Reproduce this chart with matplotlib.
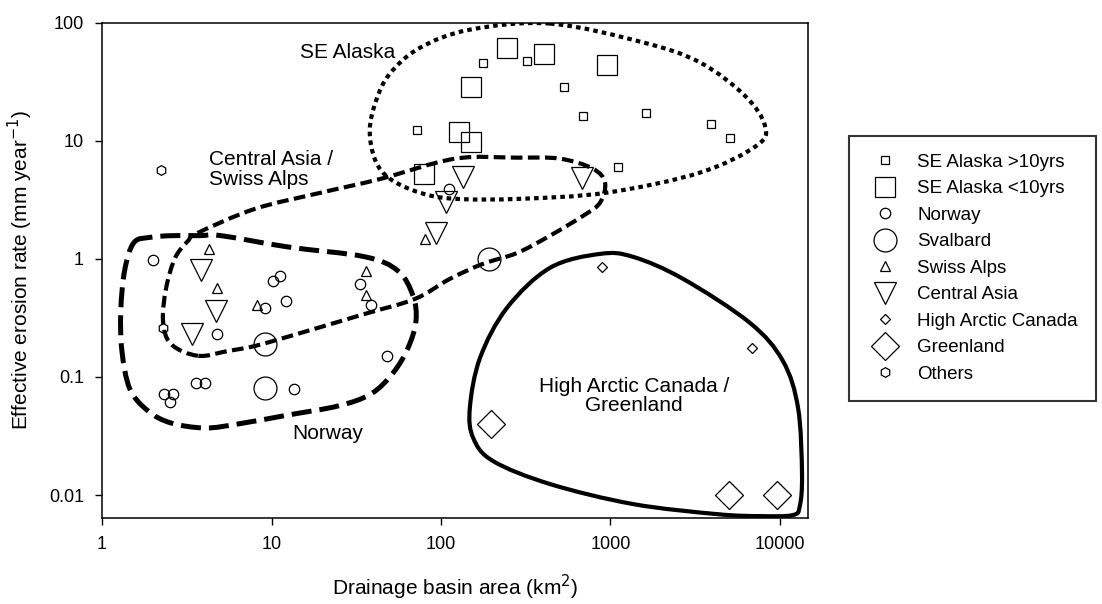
import numpy as np
import matplotlib
matplotlib.use('Agg')
import matplotlib.pyplot as plt
from matplotlib.path import Path
from matplotlib.patches import PathPatch
from matplotlib.lines import Line2D

plt.rcParams['font.family'] = ['Liberation Sans', 'DejaVu Sans']

# --- data (drainage area km2, erosion rate mm/yr) ---
se_long_area = [72, 177, 321, 532, 688, 1620, 3920, 5070, 1107]
se_long_rate = [12.2, 45.8, 47.6, 28.7, 16.3, 17.3, 13.9, 10.6, 6.0]

se_short_area = [245, 405, 953, 150, 128, 150, 79.5]
se_short_rate = [61.4, 54.6, 44.0, 28.7, 11.9, 9.8, 5.25]

norway_area = [2.0, 10.2, 11.2, 33.5, 38.6, 12.2, 9.2, 4.8, 48, 3.6, 4.05, 2.32, 2.62, 2.52, 13.6, 111]
norway_rate = [0.97, 0.65, 0.71, 0.61, 0.41, 0.44, 0.38, 0.23, 0.15, 0.089, 0.089, 0.072, 0.072, 0.061, 0.079, 3.9]

svalbard_area = [9.2, 9.2, 192]
svalbard_rate = [0.19, 0.081, 1.0]

swiss_area = [4.25, 4.8, 8.2, 36, 36, 80]
swiss_rate = [1.2, 0.57, 0.41, 0.79, 0.49, 1.48]

casia_area = [3.84, 4.7, 3.4, 93.6, 107, 135, 679]
casia_rate = [0.8, 0.36, 0.23, 1.66, 3.0, 4.9, 4.8]

hac_area = [890, 6840]
hac_rate = [0.86, 0.176]

greenland_area = [197, 5000, 9600]
greenland_rate = [0.04, 0.01, 0.01]

others_area = [2.23, 2.28]
others_rate = [5.7, 0.26]

# --- hand drawn region outlines (vertices in data units) ---
se_outline_area = [440, 1550, 3370, 6220, 8160, 7310, 3370, 953, 292, 121, 75, 50, 41, 38, 41.4, 50, 75, 148]
se_outline_rate = [98, 68, 46, 24, 13.4, 9.1, 5.36, 3.63, 3.22, 3.22, 3.63, 4.76, 6.8, 12.2, 21.8, 37, 61, 87]

ca_outline_area = [3.68, 2.55, 2.29, 2.39, 2.70, 3.22, 3.68, 8.0, 19.6, 44.3, 121, 281, 504, 788, 929, 867,
                   689, 440, 281, 177, 113, 70.3, 35.6, 14.9, 8.0, 5.54]
ca_outline_rate = [0.151, 0.19, 0.298, 0.568, 1.02, 1.42, 1.66, 2.65, 3.63, 4.76, 7.04, 7.18, 7.04, 5.79, 4.41,
                   2.98, 2.31, 1.57, 1.12, 0.907, 0.677, 0.458, 0.342, 0.236, 0.183, 0.166]

no_outline_area = [1.54, 1.93, 2.58, 3.76, 5.04, 12.5, 35.6, 55.7, 68.4, 71.2, 63.9, 52.1, 38.6, 24.7, 12.5,
                   6.35, 4.05, 2.55, 1.87, 1.46, 1.31, 1.29, 1.36]
no_outline_rate = [1.37, 1.52, 1.57, 1.57, 1.57, 1.26, 1.04, 0.791, 0.486, 0.298, 0.176, 0.108, 0.0718, 0.0568,
                   0.0476, 0.040, 0.037, 0.0408, 0.0515, 0.079, 0.166, 0.362, 0.80]

ha_outline_area = [867, 1358, 2680, 6650, 10400, 12800, 13500, 13100, 11900, 7620, 4250, 1358, 440, 203, 155,
                   148, 170, 245, 440]
ha_outline_rate = [1.10, 1.04, 0.677, 0.287, 0.137, 0.0546, 0.0151, 0.00807, 0.00677, 0.00664, 0.0069, 0.0084,
                   0.0124, 0.0194, 0.0304, 0.0546, 0.145, 0.384, 0.839]


def closed_curve(xs, ys):
    # smooth closed loop through the vertices (Catmull-Rom -> cubic bezier, in log space)
    P = np.column_stack([np.log10(xs), np.log10(ys)])
    n = len(P)
    verts = [P[0]]
    codes = [Path.MOVETO]
    for i in range(n):
        p0, p1, p2, p3 = P[i - 1], P[i], P[(i + 1) % n], P[(i + 2) % n]
        verts += [p1 + (p2 - p0) / 6, p2 - (p3 - p1) / 6, p2]
        codes += [Path.CURVE4] * 3
    return Path(10 ** np.array(verts), codes)


fig = plt.figure(figsize=(11.02, 6.04), dpi=100)
ax = fig.add_axes([0.0926, 0.1424, 0.6404, 0.8203])

outlines = [
    (se_outline_area, se_outline_rate, (0, (1.1, 1.0)), 3.0),
    (ca_outline_area, ca_outline_rate, (0, (2.8, 1.3)), 3.0),
    (no_outline_area, no_outline_rate, (0, (4.0, 1.6)), 3.6),
    (ha_outline_area, ha_outline_rate, '-', 3.0),
]
for xs, ys, ls, lw in outlines:
    patch = PathPatch(closed_curve(xs, ys), fill=False, edgecolor='black', lw=lw,
                      linestyle=ls, capstyle='butt', joinstyle='round', zorder=2)
    ax.add_patch(patch)

series = [
    ('SE Alaska >10yrs', se_long_area, se_long_rate, 's', 6.0),
    ('SE Alaska <10yrs', se_short_area, se_short_rate, 's', 14.5),
    ('Norway', norway_area, norway_rate, 'o', 7.5),
    ('Svalbard', svalbard_area, svalbard_rate, 'o', 16.5),
    ('Swiss Alps', swiss_area, swiss_rate, '^', 6.5),
    ('Central Asia', casia_area, casia_rate, 'v', 16.5),
    ('High Arctic Canada', hac_area, hac_rate, 'D', 5.5),
    ('Greenland', greenland_area, greenland_rate, 'D', 14.0),
    ('Others', others_area, others_rate, 'h', 7.0),
]
handles = []
for label, xs, ys, m, ms in series:
    ax.plot(xs, ys, linestyle='none', marker=m, markersize=ms, mfc='none',
            mec='black', mew=0.9, zorder=3)
    handles.append(Line2D([], [], linestyle='none', marker=m, markersize=ms, mfc='none',
                          mec='black', mew=0.9, label=label))

ax.set_xscale('log')
ax.set_yscale('log')
ax.set_xlim(1, 14600)
ax.set_ylim(0.0064, 100)
ax.set_xticks([1, 10, 100, 1000, 10000])
ax.set_xticklabels(['1', '10', '100', '1000', '10000'])
ax.set_yticks([0.01, 0.1, 1, 10, 100])
ax.set_yticklabels(['0.01', '0.1', '1', '10', '100'])
ax.minorticks_off()
ax.tick_params(direction='out', length=5, width=1, labelsize=13)
ax.tick_params(axis='y', pad=8)
ax.tick_params(axis='x', pad=8)
for s in ax.spines.values():
    s.set_linewidth(1.1)

ax.set_xlabel('Drainage basin area (km$^2$)', fontsize=15, labelpad=14)
ax.set_ylabel('Effective erosion rate (mm year$^{-1}$)', fontsize=15, labelpad=10)

ax.text(28.3, 55.7, 'SE Alaska', fontsize=15, ha='center', va='center')
ax.text(4.28, 5.68, 'Central Asia /\nSwiss Alps', fontsize=15, ha='left', va='center', linespacing=1.05)
ax.text(21.5, 0.0335, 'Norway', fontsize=15, ha='center', va='center')
ax.text(1377, 0.069, 'High Arctic Canada /\nGreenland', fontsize=15, ha='center', va='center',
        multialignment='center', linespacing=1.05)

leg = fig.legend(handles=handles, loc='upper left', bbox_to_anchor=(849 / 1102, 1 - 136 / 604),
                 bbox_transform=fig.transFigure, fontsize=13.5, frameon=True, fancybox=False,
                 borderpad=0.95, handlelength=1.9, handletextpad=0.8, labelspacing=0.5,
                 borderaxespad=0)
leg.get_frame().set_edgecolor('black')
leg.get_frame().set_linewidth(1.5)

fig.savefig('out.png', dpi=100)
